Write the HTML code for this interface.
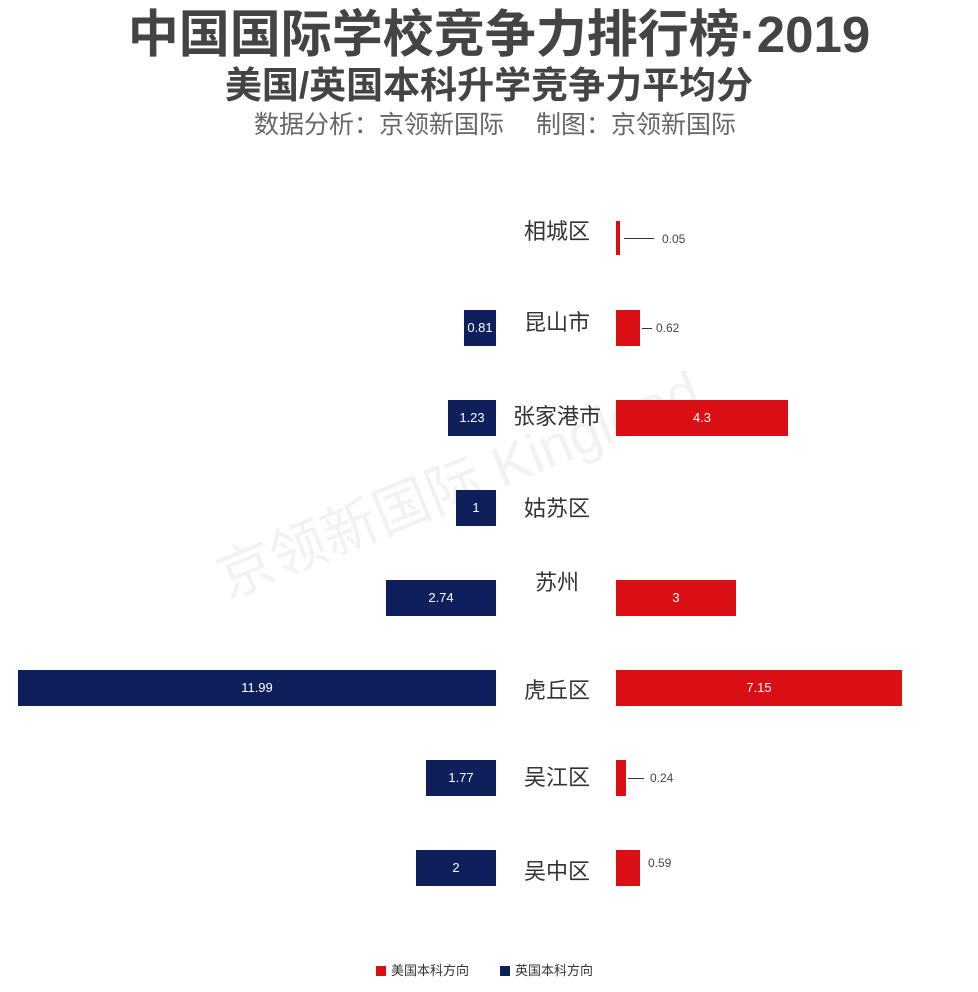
<!DOCTYPE html>
<html><head><meta charset="utf-8"><style>
body{margin:0;width:978px;height:992px;background:#fff;position:relative;overflow:hidden;font-family:"Liberation Sans","Noto Sans CJK SC",sans-serif}
div{position:absolute}
.t{left:0;width:978px;text-align:center;white-space:nowrap}
.b{background:#0f1f5c;height:36px;color:#fff;font-size:13px;line-height:36px;text-align:center}
.r{background:#d90f14;height:36px;color:#fff;font-size:13px;line-height:36px;text-align:center}
.l{width:120px;left:497px;text-align:center;font-size:22px;color:#333;line-height:24px}
.v{font-size:12px;color:#444;line-height:14px}
.ln{height:1px;background:#333}
</style></head><body>
<div class="t" style="top:6px;left:10px;font-size:51px;font-weight:bold;color:#444;line-height:58px">中国国际学校竞争力排行榜·2019</div>
<div class="t" style="top:64px;font-size:37px;font-weight:bold;color:#444;line-height:44px">美国/英国本科升学竞争力平均分</div>
<div class="t" style="top:110px;left:6px;font-size:25px;color:#666;line-height:30px">数据分析：京领新国际　 制图：京领新国际</div>
<div style="left:200px;top:440px;font-size:56px;color:rgba(0,0,0,0.05);transform:rotate(-22deg);white-space:nowrap">京领新国际 Kinglead</div>

<div class="l" style="top:220px">相城区</div>
<div class="r" style="left:616px;top:221px;width:4px;height:34px"></div>
<div class="ln" style="left:624px;top:238px;width:30px"></div>
<div class="v" style="left:662px;top:232px">0.05</div>

<div class="b" style="left:464px;top:310px;width:32px">0.81</div>
<div class="l" style="top:311px">昆山市</div>
<div class="r" style="left:616px;top:310px;width:24px"></div>
<div class="ln" style="left:642px;top:328px;width:10px"></div>
<div class="v" style="left:656px;top:321px">0.62</div>

<div class="b" style="left:448px;top:400px;width:48px">1.23</div>
<div class="l" style="top:405px">张家港市</div>
<div class="r" style="left:616px;top:400px;width:172px">4.3</div>

<div class="b" style="left:456px;top:490px;width:40px">1</div>
<div class="l" style="top:497px">姑苏区</div>

<div class="b" style="left:386px;top:580px;width:110px">2.74</div>
<div class="l" style="top:571px">苏州</div>
<div class="r" style="left:616px;top:580px;width:120px">3</div>

<div class="b" style="left:18px;top:670px;width:478px">11.99</div>
<div class="l" style="top:679px">虎丘区</div>
<div class="r" style="left:616px;top:670px;width:286px">7.15</div>

<div class="b" style="left:426px;top:760px;width:70px">1.77</div>
<div class="l" style="top:766px">吴江区</div>
<div class="r" style="left:616px;top:760px;width:10px"></div>
<div class="ln" style="left:628px;top:778px;width:16px"></div>
<div class="v" style="left:650px;top:771px">0.24</div>

<div class="b" style="left:416px;top:850px;width:80px">2</div>
<div class="l" style="top:860px">吴中区</div>
<div class="r" style="left:616px;top:850px;width:24px"></div>
<div class="v" style="left:648px;top:856px">0.59</div>

<div style="left:376px;top:966px;width:10px;height:10px;background:#d90f14"></div>
<div class="v" style="left:391px;top:963px;font-size:13px;line-height:16px;color:#333">美国本科方向</div>
<div style="left:500px;top:966px;width:10px;height:10px;background:#0f1f5c"></div>
<div class="v" style="left:515px;top:963px;font-size:13px;line-height:16px;color:#333">英国本科方向</div>
</body></html>
